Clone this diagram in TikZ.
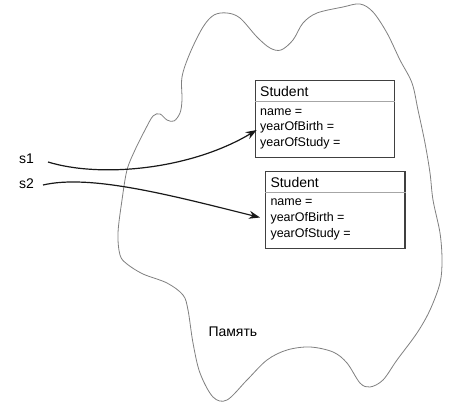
\documentclass[tikz,border=0pt]{standalone}
\usepackage{fontspec}
\setmainfont{Liberation Sans}
\usetikzlibrary{arrows.meta}
\begin{document}
\begin{tikzpicture}[x=1pt,y=-1pt,
  blob/.style={draw=black!50, line width=0.8pt},
  objbox/.style={draw=black!75, line width=1.4pt, fill=white, rectangle, inner sep=0pt, anchor=north west, minimum width=139.3pt, minimum height=76.7pt},
  divider/.style={draw=black!35, line width=0.8pt},
  title/.style={font=\fontsize{14}{16}\selectfont, anchor=base west, inner sep=0pt},
  field/.style={font=\fontsize{12.5}{15}\selectfont, anchor=base west, inner sep=0pt},
  lbl/.style={font=\fontsize{14}{16}\selectfont, anchor=base west, inner sep=0pt},
  ref/.style={draw=black!90, line width=1.2pt, -{Stealth[length=11pt,width=8pt]}}
]
\fill[white] (0,0) rectangle (469,412);
\useasboundingbox (0,0) rectangle (469,412);

% memory blob
\draw[blob] plot[smooth cycle, tension=0.55] coordinates {
(118,233) (122,200) (127,170) (135,150) (145,130) (153,116) (160,114) (167,120) (174,121) (180,113) (182,100) (182,77) (190,53) (203,27) (214,15) (227,13) (240,18) (257,37) (270,48) (281,50) (293,40) (303,23) (317,13) (343,7) (360,4) (373,12) (387,33) (400,60) (412,83) (418,110) (425,143) (430,173) (433,200) (440,233) (442,260) (440,283) (430,310) (417,333) (397,360) (383,380) (370,387) (360,383) (347,363) (333,352) (310,347) (287,350) (267,360) (247,380) (227,400) (213,397) (200,373) (193,343) (188,310) (183,295) (167,283) (143,274) (127,264) (120,255)};

\node[lbl] (mem) at (208.3,336) {Память};

% object 1
\node[objbox] (b1) at (254.7,80) {};
\draw[divider] ([yshift=-21pt]b1.north west) -- ([yshift=-21pt]b1.north east);
\node[title] (b1t) at (260,96.7) {Student};
\node[field] (b1a) at (260,115) {name =};
\node[field] (b1b) at (260,131) {yearOfBirth =};
\node[field] (b1c) at (260,146.5) {yearOfStudy =};

% object 2
\node[objbox] (b2) at (265,171) {};
\draw[divider] ([yshift=-21pt]b2.north west) -- ([yshift=-21pt]b2.north east);
\node[title] (b2t) at (270.3,187.3) {Student};
\node[field] (b2a) at (270.3,205.5) {name =};
\node[field] (b2b) at (270.3,221.5) {yearOfBirth =};
\node[field] (b2c) at (270.3,237) {yearOfStudy =};

% variables
\node[lbl] (s1) at (19,164) {s1};
\node[lbl] (s2) at (19,188) {s2};
\coordinate (s1o) at (48,162);
\coordinate (s2o) at (43,185);
\coordinate (e1) at (256.7,130);
\coordinate (e2) at (260,217.5);

\draw[ref] (s1o) .. controls (100,178) and (190,170) .. (e1);
\draw[ref] (s2o) .. controls (90,174) and (170,195) .. (e2);
\end{tikzpicture}
\end{document}
